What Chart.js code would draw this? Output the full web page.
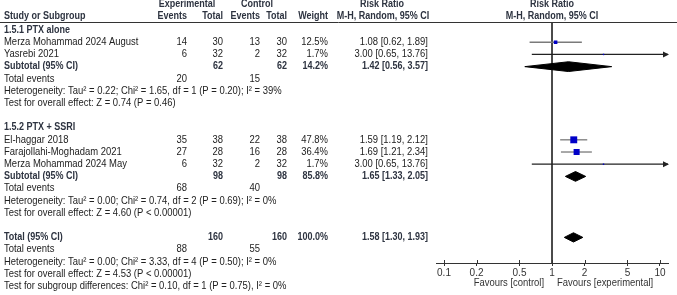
<!DOCTYPE html>
<html>
<head>
<meta charset="utf-8">
<script src="https://cdn.jsdelivr.net/npm/chart.js@4.4.1/dist/chart.umd.min.js"></script>
<style>
  html, body { margin: 0; padding: 0; background: #fff; }
  #wrap { width: 677px; height: 295px; }
</style>
</head>
<body>
<div id="wrap"><canvas id="forest" width="677" height="295"></canvas></div>
<script>
// Study rows
const studyNames = ['Merza Mohammad 2024 August', 'Yasrebi 2021', 'El-haggar 2018', 'Farajollahi-Moghadam 2021', 'Merza Mohammad 2024 May'];
const studyGroup = [0, 0, 1, 1, 1];
const expEvents = [14, 6, 35, 27, 6];
const expTotal = [30, 32, 38, 28, 32];
const ctlEvents = [13, 2, 22, 16, 2];
const ctlTotal = [30, 32, 38, 28, 32];
const weights = [12.5, 1.7, 47.8, 36.4, 1.7];
const rr = [1.08, 3.00, 1.59, 1.69, 3.00];
const rrLow = [0.62, 0.65, 1.19, 1.21, 0.65];
const rrHigh = [1.89, 13.76, 2.12, 2.34, 13.76];

// Subgroups
const groupNames = ['1.5.1 PTX alone', '1.5.2 PTX + SSRI'];
const groupExpTotal = [62, 98];
const groupCtlTotal = [62, 98];
const groupWeight = [14.2, 85.8];
const groupRR = [1.42, 1.65];
const groupLow = [0.56, 1.33];
const groupHigh = [3.57, 2.05];
const groupExpEvents = [20, 68];
const groupCtlEvents = [15, 40];
const groupHet = [
  'Heterogeneity: Tau\u00B2 = 0.22; Chi\u00B2 = 1.65, df = 1 (P = 0.20); I\u00B2 = 39%',
  'Heterogeneity: Tau\u00B2 = 0.00; Chi\u00B2 = 0.74, df = 2 (P = 0.69); I\u00B2 = 0%'
];
const groupTest = [
  'Test for overall effect: Z = 0.74 (P = 0.46)',
  'Test for overall effect: Z = 4.60 (P < 0.00001)'
];

// Overall
const totalExp = 160, totalCtl = 160, totalWeight = 100.0;
const totalRR = 1.58, totalLow = 1.30, totalHigh = 1.93;
const totalExpEvents = 88, totalCtlEvents = 55;
const totalHet = 'Heterogeneity: Tau\u00B2 = 0.00; Chi\u00B2 = 3.33, df = 4 (P = 0.50); I\u00B2 = 0%';
const totalTest = 'Test for overall effect: Z = 4.53 (P < 0.00001)';
const subgroupTest = 'Test for subgroup differences: Chi\u00B2 = 0.10, df = 1 (P = 0.75), I\u00B2 = 0%';

// Axis ticks
const xTicks = [0.1, 0.2, 0.5, 1, 2, 5, 10];

// Layout
const X_MIN = 0.0843, X_MAX = 11.86;
const Y_TOP = -0.66, Y_BOTTOM = 19.1;
const FONT = '"Liberation Sans", Arial, sans-serif';
const SIZE = 10.5, BOLD_SIZE = 10, SQUEEZE = 0.9;
const TXT = '#222';
const HEAD = '#2d3340';

// Build row list
const rows = [];
let r = 0;
groupNames.forEach((g, gi) => {
  rows.push({kind: 'group', y: r++, g: gi});
  studyNames.forEach((s, si) => {
    if (studyGroup[si] === gi) rows.push({kind: 'study', y: r++, i: si});
  });
  rows.push({kind: 'subtotal', y: r++, g: gi});
  rows.push({kind: 'events', y: r++, g: gi});
  rows.push({kind: 'het', y: r++, g: gi});
  rows.push({kind: 'test', y: r++, g: gi});
  r++;
});
rows.push({kind: 'total', y: r++});
rows.push({kind: 'totalEvents', y: r++});
rows.push({kind: 'totalHet', y: r++});
rows.push({kind: 'totalTest', y: r++});
rows.push({kind: 'subgroupTest', y: r++});

const studyRow = {};
const groupRow = {};
let totalRow = 0;
rows.forEach(row => {
  if (row.kind === 'study') studyRow[row.i] = row.y;
  if (row.kind === 'subtotal') groupRow[row.g] = row.y;
  if (row.kind === 'total') totalRow = row.y;
});

const ci = (e, lo, hi) => e.toFixed(2) + ' [' + lo.toFixed(2) + ', ' + hi.toFixed(2) + ']';

function diamond(e, lo, hi, y, h) {
  return [{x: lo, y: y}, {x: e, y: y - h}, {x: hi, y: y}, {x: e, y: y + h}, {x: lo, y: y}];
}

// Datasets
const datasets = [];

datasets.push({
  type: 'scatter',
  data: studyNames.map((s, i) => ({x: rr[i], y: studyRow[i]})),
  pointStyle: 'rect',
  pointRadius: weights.map(w => Math.max(Math.sqrt(w) / 1.414, 1)),
  pointHoverRadius: weights.map(w => Math.max(Math.sqrt(w) / 1.414, 1)),
  backgroundColor: '#0000c8',
  borderWidth: 0
});

groupNames.forEach((g, gi) => {
  datasets.push({
    type: 'line',
    data: diamond(groupRR[gi], groupLow[gi], groupHigh[gi], groupRow[gi], 0.4),
    fill: 'shape',
    backgroundColor: '#000',
    borderColor: '#000',
    borderWidth: 1,
    pointRadius: 0,
    tension: 0
  });
});
datasets.push({
  type: 'line',
  data: diamond(totalRR, totalLow, totalHigh, totalRow, 0.38),
  fill: 'shape',
  backgroundColor: '#000',
  borderColor: '#000',
  borderWidth: 1,
  pointRadius: 0,
  tension: 0
});

studyNames.forEach((s, i) => {
  datasets.push({
    type: 'line',
    data: [{x: rrLow[i], y: studyRow[i]}, {x: rrHigh[i], y: studyRow[i]}],
    borderColor: rrHigh[i] > X_MAX ? '#222' : '#7a7a7a',
    borderWidth: 1.3,
    pointRadius: 0,
    fill: false
  });
});

// line of no effect
datasets.push({
  type: 'line',
  data: [{x: 1, y: Y_TOP}, {x: 1, y: Y_BOTTOM}],
  borderColor: '#333',
  borderWidth: 1,
  pointRadius: 0,
  fill: false
});

const tablePlugin = {
  id: 'forestTable',
  afterDraw(chart) {
    const {ctx, chartArea, scales: {x, y}} = chart;
    const refX = x.getPixelForValue(1);

    // RevMan text is a little narrower than Arial, so squeeze it horizontally
    function text(str, px, row, align, bold, color) {
      const py = typeof row === 'number' ? y.getPixelForValue(row) : row.px;
      ctx.save();
      ctx.font = bold ? 'bold ' + BOLD_SIZE + 'px ' + FONT : SIZE + 'px ' + FONT;
      ctx.fillStyle = color || TXT;
      ctx.textAlign = align || 'left';
      ctx.textBaseline = 'middle';
      ctx.translate(px, py);
      ctx.scale(SQUEEZE, 1);
      ctx.fillText(str, 0, 0);
      ctx.restore();
    }

    ctx.save();

    // header
    text('Experimental', 187, -2.1, 'center', true, HEAD);
    text('Control', 257, -2.1, 'center', true, HEAD);
    text('Risk Ratio', 382, -2.1, 'center', true, HEAD);
    text('Risk Ratio', refX, -2.1, 'center', true, HEAD);
    text('Study or Subgroup', 4, -1.1, 'left', true, HEAD);
    text('Events', 187, -1.1, 'right', true, HEAD);
    text('Total', 223, -1.1, 'right', true, HEAD);
    text('Events', 260, -1.1, 'right', true, HEAD);
    text('Total', 287, -1.1, 'right', true, HEAD);
    text('Weight', 328, -1.1, 'right', true, HEAD);
    text('M-H, Random, 95% CI', 383, -1.1, 'center', true, HEAD);
    text('M-H, Random, 95% CI', refX, -1.1, 'center', true, HEAD);

    ctx.strokeStyle = '#333';
    ctx.lineWidth = 1;
    ctx.beginPath();
    ctx.moveTo(0, chartArea.top + 0.5);
    ctx.lineTo(677, chartArea.top + 0.5);
    ctx.stroke();

    rows.forEach(row => {
      const ry = row.y;
      switch (row.kind) {
        case 'group':
          text(groupNames[row.g], 4, ry, 'left', true, HEAD);
          break;
        case 'study': {
          const i = row.i;
          text(studyNames[i], 4, ry);
          text(String(expEvents[i]), 187, ry, 'right');
          text(String(expTotal[i]), 223, ry, 'right');
          text(String(ctlEvents[i]), 260, ry, 'right');
          text(String(ctlTotal[i]), 287, ry, 'right');
          text(weights[i].toFixed(1) + '%', 328, ry, 'right');
          text(ci(rr[i], rrLow[i], rrHigh[i]), 428, ry, 'right');
          break;
        }
        case 'subtotal': {
          const g = row.g;
          text('Subtotal (95% CI)', 4, ry, 'left', true, HEAD);
          text(String(groupExpTotal[g]), 223, ry, 'right', true, HEAD);
          text(String(groupCtlTotal[g]), 287, ry, 'right', true, HEAD);
          text(groupWeight[g].toFixed(1) + '%', 328, ry, 'right', true, HEAD);
          text(ci(groupRR[g], groupLow[g], groupHigh[g]), 428, ry, 'right', true, HEAD);
          break;
        }
        case 'events':
          text('Total events', 4, ry);
          text(String(groupExpEvents[row.g]), 187, ry, 'right');
          text(String(groupCtlEvents[row.g]), 260, ry, 'right');
          break;
        case 'het':
          text(groupHet[row.g], 4, ry);
          break;
        case 'test':
          text(groupTest[row.g], 4, ry);
          break;
        case 'total':
          text('Total (95% CI)', 4, ry, 'left', true, HEAD);
          text(String(totalExp), 223, ry, 'right', true, HEAD);
          text(String(totalCtl), 287, ry, 'right', true, HEAD);
          text(totalWeight.toFixed(1) + '%', 328, ry, 'right', true, HEAD);
          text(ci(totalRR, totalLow, totalHigh), 428, ry, 'right', true, HEAD);
          break;
        case 'totalEvents':
          text('Total events', 4, ry);
          text(String(totalExpEvents), 187, ry, 'right');
          text(String(totalCtlEvents), 260, ry, 'right');
          break;
        case 'totalHet':
          text(totalHet, 4, ry);
          break;
        case 'totalTest':
          text(totalTest, 4, ry);
          break;
        case 'subgroupTest':
          text(subgroupTest, 4, ry);
          break;
      }
    });

    // arrows for CIs running past the axis
    ctx.fillStyle = '#222';
    studyNames.forEach((s, i) => {
      if (rrHigh[i] > X_MAX) {
        const py = y.getPixelForValue(studyRow[i]);
        const px = chartArea.right;
        ctx.beginPath();
        ctx.moveTo(px + 1, py);
        ctx.lineTo(px - 5, py - 3);
        ctx.lineTo(px - 5, py + 3);
        ctx.closePath();
        ctx.fill();
      }
    });

    // tick marks above the axis line
    ctx.strokeStyle = '#333';
    ctx.beginPath();
    xTicks.forEach(v => {
      const px = Math.round(x.getPixelForValue(v)) + 0.5;
      ctx.moveTo(px, chartArea.bottom - 3);
      ctx.lineTo(px, chartArea.bottom);
    });
    ctx.stroke();

    // favours labels
    const fy = chartArea.bottom + 20;
    text('Favours [control]', refX - 8, {px: fy}, 'right', false, '#333');
    text('Favours [experimental]', refX + 5, {px: fy}, 'left', false, '#333');

    ctx.restore();
  }
};

new Chart(document.getElementById('forest'), {
  type: 'scatter',
  data: {datasets: datasets},
  plugins: [tablePlugin],
  options: {
    responsive: false,
    animation: false,
    devicePixelRatio: 1,
    layout: {padding: {left: 436, right: 9, top: 22, bottom: 0}},
    plugins: {legend: {display: false}, tooltip: {enabled: false}},
    events: [],
    scales: {
      x: {
        type: 'logarithmic',
        min: X_MIN,
        max: X_MAX,
        afterBuildTicks: (scale) => { scale.ticks = xTicks.map(v => ({value: v})); },
        afterFit: (scale) => { scale.height = 32; },
        ticks: {
          autoSkip: false,
          maxRotation: 0,
          padding: 1,
          color: '#333',
          font: {family: FONT, size: 10},
          callback: (v) => String(v)
        },
        grid: {drawOnChartArea: false, drawTicks: true, tickLength: 3, color: '#333'},
        border: {display: true, color: '#333'}
      },
      y: {
        type: 'linear',
        display: false,
        reverse: true,
        min: Y_TOP,
        max: Y_BOTTOM
      }
    }
  }
});
</script>
</body>
</html>
